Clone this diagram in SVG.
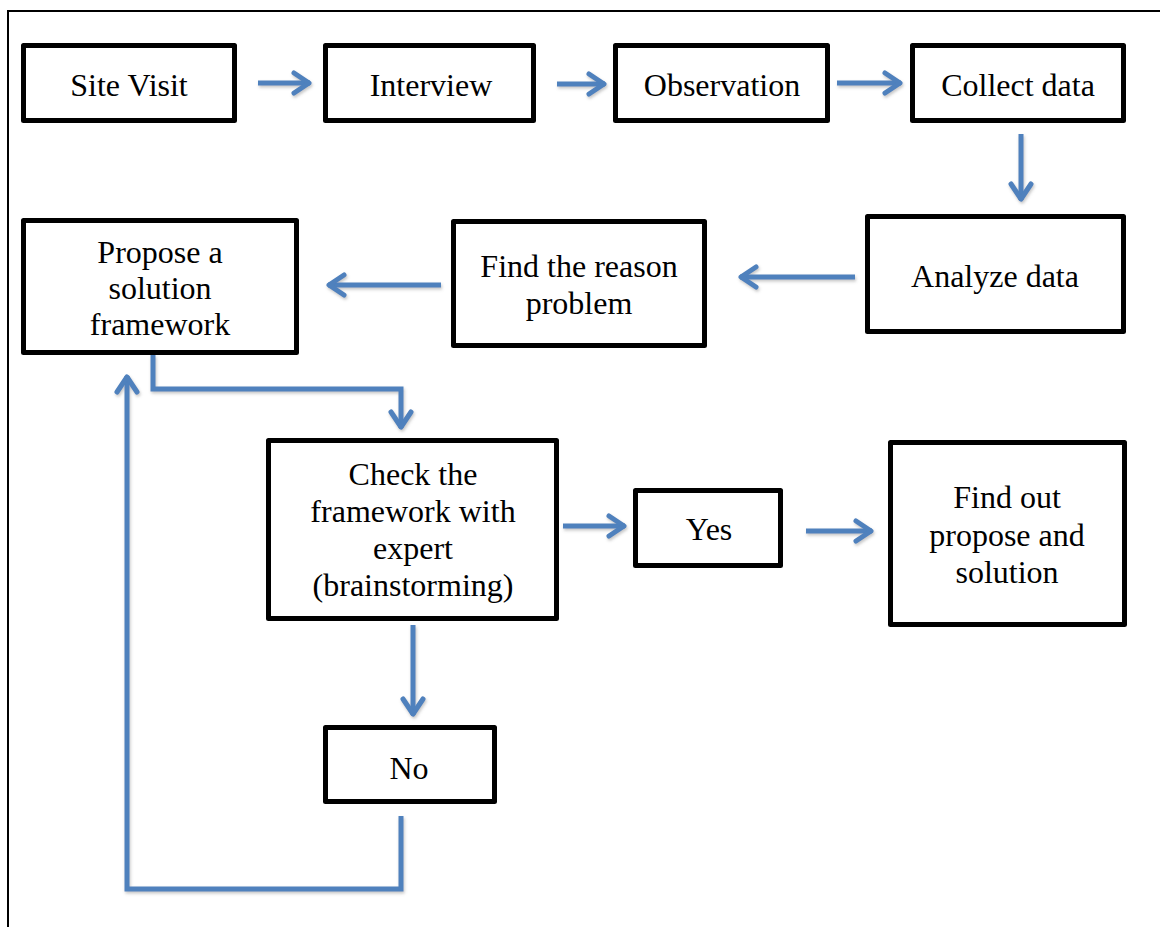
<svg xmlns="http://www.w3.org/2000/svg" width="1160" height="927" viewBox="0 0 1160 927">
  <style>
    .box { fill: #ffffff; stroke: #000000; stroke-width: 5; stroke-linejoin: round; }
    .lbl { font-family: "Liberation Serif", "Times New Roman", serif; font-size: 32px; fill: #000000; text-anchor: middle; }
    .conn { fill: none; stroke: #4F81BD; stroke-width: 5; stroke-linejoin: miter; }
    .frame { fill: none; stroke: #000000; stroke-width: 2; }
  </style>
  <defs>
    <filter id="soft" x="-20%" y="-20%" width="140%" height="140%">
      <feDropShadow dx="1" dy="2" stdDeviation="1.5" flood-color="#808080" flood-opacity="0.45"/>
    </filter>
    <marker id="chev" markerUnits="userSpaceOnUse" viewBox="-22 -14 26 28" refX="0" refY="0" markerWidth="26" markerHeight="28" orient="auto">
      <path d="M-16,-10 L-1,0 L-16,10" fill="none" stroke="#4F81BD" stroke-width="5" stroke-linecap="round" stroke-linejoin="round"/>
    </marker>
  </defs>

  <rect width="1160" height="927" fill="#ffffff"/>
  <!-- page border, open past the right and bottom edges -->
  <rect class="frame" x="8" y="11" width="1170" height="930"/>

  <g id="connectors" filter="url(#soft)">
    <path class="conn" d="M258,83 L310,83" marker-end="url(#chev)"/>
    <path class="conn" d="M557,84 L605,84" marker-end="url(#chev)"/>
    <path class="conn" d="M837,83 L901,83" marker-end="url(#chev)"/>
    <path class="conn" d="M1021,134 L1021,200" marker-end="url(#chev)"/>
    <path class="conn" d="M855,277 L740,277" marker-end="url(#chev)"/>
    <path class="conn" d="M441,285 L328,285" marker-end="url(#chev)"/>
    <path class="conn" d="M153,355 V389 H401 V428" marker-end="url(#chev)"/>
    <path class="conn" d="M563,526 L625,526" marker-end="url(#chev)"/>
    <path class="conn" d="M806,531 L872,531" marker-end="url(#chev)"/>
    <path class="conn" d="M413,625 V715" marker-end="url(#chev)"/>
    <path class="conn" d="M401,816 V889 H127 V376" marker-end="url(#chev)"/>
  </g>

  <g id="site-visit">
    <rect class="box" x="23.5" y="45.5" width="211" height="75"/>
    <text class="lbl" x="129" y="96">Site Visit</text>
  </g>
  <g id="interview">
    <rect class="box" x="325.5" y="45.5" width="208" height="75"/>
    <text class="lbl" x="431" y="96">Interview</text>
  </g>
  <g id="observation">
    <rect class="box" x="615.5" y="45.5" width="212" height="75"/>
    <text class="lbl" x="722" y="96">Observation</text>
  </g>
  <g id="collect-data">
    <rect class="box" x="912.5" y="45.5" width="211" height="75"/>
    <text class="lbl" x="1018" y="96">Collect data</text>
  </g>
  <g id="analyze-data">
    <rect class="box" x="867.5" y="216.5" width="256" height="115"/>
    <text class="lbl" x="995" y="287">Analyze data</text>
  </g>
  <g id="find-reason">
    <rect class="box" x="453.5" y="221.5" width="251" height="124"/>
    <text class="lbl" x="579" y="277">Find the reason</text>
    <text class="lbl" x="579" y="314">problem</text>
  </g>
  <g id="propose-framework">
    <rect class="box" x="23.5" y="220.5" width="273" height="132"/>
    <text class="lbl" x="160" y="263">Propose a</text>
    <text class="lbl" x="160" y="299">solution</text>
    <text class="lbl" x="160" y="335">framework</text>
  </g>
  <g id="check-framework">
    <rect class="box" x="268.5" y="440.5" width="288" height="178"/>
    <text class="lbl" x="413" y="485">Check the</text>
    <text class="lbl" x="413" y="522">framework with</text>
    <text class="lbl" x="413" y="559">expert</text>
    <text class="lbl" x="413" y="596">(brainstorming)</text>
  </g>
  <g id="yes">
    <rect class="box" x="635.5" y="490.5" width="145" height="75"/>
    <text class="lbl" x="709" y="540">Yes</text>
  </g>
  <g id="find-out">
    <rect class="box" x="890.5" y="442.5" width="234" height="182"/>
    <text class="lbl" x="1007" y="508">Find out</text>
    <text class="lbl" x="1007" y="546">propose and</text>
    <text class="lbl" x="1007" y="583">solution</text>
  </g>
  <g id="no">
    <rect class="box" x="325.5" y="727.5" width="169" height="74"/>
    <text class="lbl" x="409" y="779">No</text>
  </g>
</svg>
